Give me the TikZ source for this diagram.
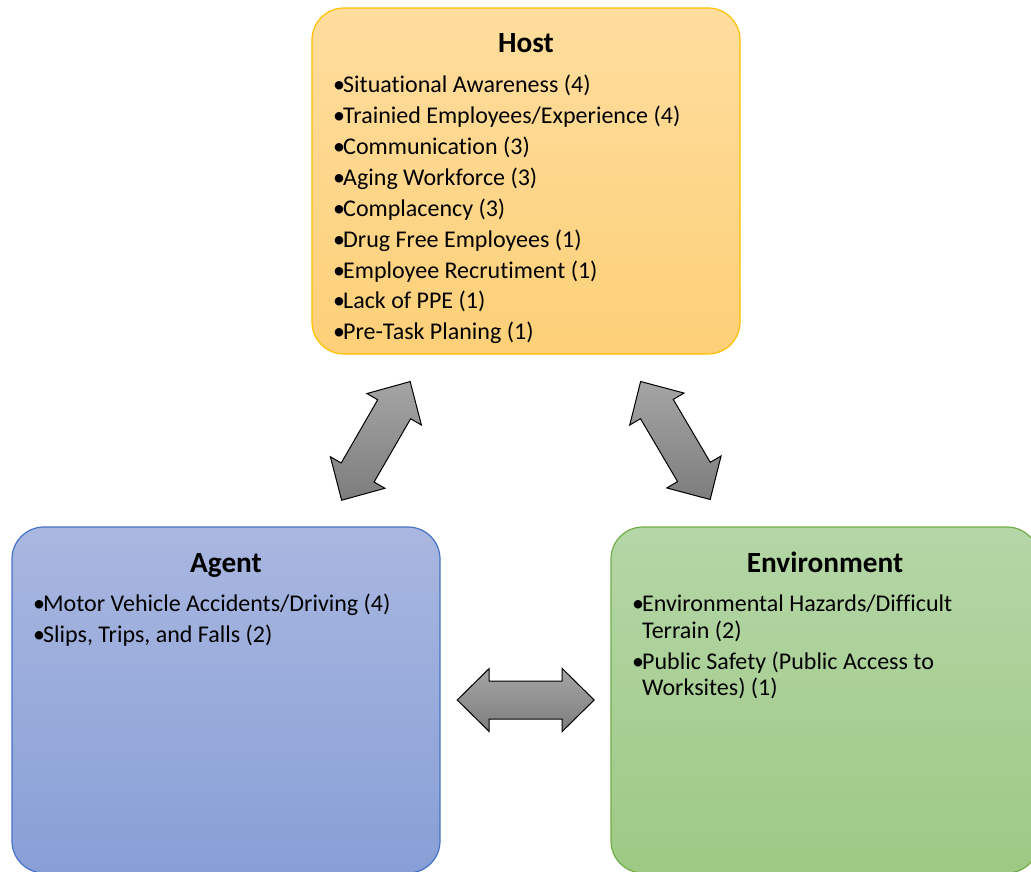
\documentclass[tikz,border=0pt]{standalone}
\usepackage{fontspec}
\setmainfont[Ligatures=NoCommon]{Carlito}
\definecolor{hostA}{RGB}{254,221,158}
\definecolor{hostB}{RGB}{253,208,120}
\definecolor{hostD}{RGB}{255,192,0}
\definecolor{agA}{RGB}{169,183,224}
\definecolor{agB}{RGB}{136,159,214}
\definecolor{agD}{RGB}{68,114,196}
\definecolor{envA}{RGB}{181,214,167}
\definecolor{envB}{RGB}{157,201,132}
\definecolor{envD}{RGB}{112,173,71}
\definecolor{arrA}{RGB}{165,165,165}
\definecolor{arrB}{RGB}{125,125,125}
\newcommand{\blockarrowpath}{(-68.5,0) -- (-36.5,-31.5) -- (-36.5,-19) -- (36.5,-19) -- (36.5,-31.5) -- (68.5,0) -- (36.5,31.5) -- (36.5,19) -- (-36.5,19) -- (-36.5,31.5) -- cycle}
\begin{document}
\begin{tikzpicture}[x=1pt,y=-1pt,
  box/.style={rounded corners=32pt, minimum width=428pt, minimum height=346pt, line width=1.2pt, inner sep=0pt},
  title/.style={font=\fontsize{29.3}{32}\selectfont\bfseries, anchor=base, inner sep=0pt},
  item/.style={font=\fontsize{24}{26}\selectfont, anchor=base west, inner sep=0pt},
  blockarrow/.style={draw=black, line width=1pt, line join=miter, top color=arrA, bottom color=arrB}
]
\useasboundingbox (0,0) rectangle (1031,871);
\clip (0,0) rectangle (1031,871);
\fill[white] (0,0) rectangle (1031,871);

% boxes
\node[box, draw=hostD, top color=hostA, bottom color=hostB] (host) at (526,181) {};
\node[box, draw=agD, top color=agA, bottom color=agB] (agent) at (226,700) {};
\node[box, draw=envD, top color=envA, bottom color=envB] (env) at (825,700) {};

% titles
\node[title] (hostT) at (526,52) {Host};
\node[title] (agentT) at (226,572) {Agent};
\node[title] (envT) at (825,572) {Environment};

% host items
\node[item] (h1) at (333,92)  {\makebox[10pt][l]{•}Situational Awareness (4)};
\node[item] (h2) at (333,123) {\makebox[10pt][l]{•}Trainied Employees/Experience (4)};
\node[item] (h3) at (333,154) {\makebox[10pt][l]{•}Communication (3)};
\node[item] (h4) at (333,185) {\makebox[10pt][l]{•}Aging Workforce (3)};
\node[item] (h5) at (333,216) {\makebox[10pt][l]{•}Complacency (3)};
\node[item] (h6) at (333,247) {\makebox[10pt][l]{•}Drug Free Employees (1)};
\node[item] (h7) at (333,278) {\makebox[10pt][l]{•}Employee Recrutiment (1)};
\node[item] (h8) at (333,308) {\makebox[10pt][l]{•}Lack of PPE (1)};
\node[item] (h9) at (333,339) {\makebox[10pt][l]{•}Pre-Task Planing (1)};

% agent items
\node[item] (a1) at (33,611) {\makebox[10pt][l]{•}Motor Vehicle Accidents/Driving (4)};
\node[item] (a2) at (33,642) {\makebox[10pt][l]{•}Slips, Trips, and Falls (2)};

% environment items
\node[item] (e1) at (632,611) {\makebox[10pt][l]{•}Environmental Hazards/Difficult};
\node[item] (e1b) at (642,638) {Terrain (2)};
\node[item] (e2) at (632,669) {\makebox[10pt][l]{•}Public Safety (Public Access to};
\node[item] (e2b) at (642,695) {Worksites) (1)};

% double block arrows
\coordinate (ha) at (375.9,440.9);
\coordinate (he) at (675.4,440.5);
\coordinate (ae) at (525.7,700);
\draw[blockarrow, shift={(ha)}, rotate=60] \blockarrowpath;
\draw[blockarrow, shift={(he)}, rotate=-59.5] \blockarrowpath;
\draw[blockarrow, shift={(ae)}] \blockarrowpath;
\end{tikzpicture}
\end{document}
